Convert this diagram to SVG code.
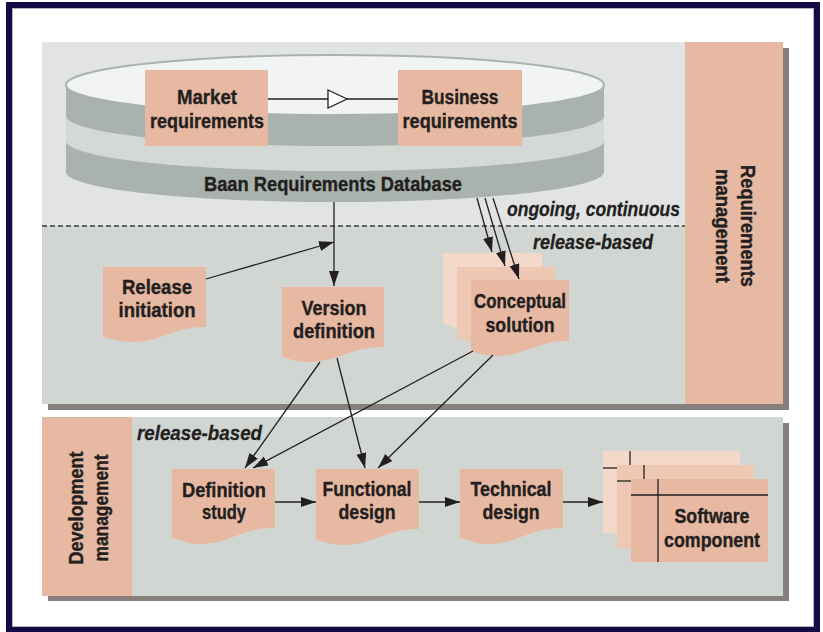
<svg xmlns="http://www.w3.org/2000/svg" width="823" height="632" viewBox="0 0 823 632">
<defs>
<style>
.t{font-family:"Liberation Sans",Arial,Helvetica,sans-serif;font-weight:bold;font-size:21px;fill:#231f20;stroke:#231f20;stroke-width:0.4;text-anchor:middle}
.i{font-family:"Liberation Sans",Arial,Helvetica,sans-serif;font-weight:bold;font-style:italic;font-size:20px;fill:#231f20;stroke:#231f20;stroke-width:0.3}
.doc{fill:#e8b9a2}
.d1{fill:#f4d8ca}
.d2{fill:#efc8b4}
.shadow{fill:#877f7b}
.pink{fill:#e8b9a2}
.c{stroke:#231f20;stroke-width:1.3;fill:none}
.ca{stroke:#231f20;stroke-width:1.3;fill:none;marker-end:url(#ah)}
.dark{fill:#a9b2ad}
.light{fill:#d4d9d6}
</style>
<marker id="ah" markerUnits="userSpaceOnUse" markerWidth="16" markerHeight="12" refX="15" refY="5" orient="auto">
<path d="M0,0 L15,5 L0,10 Z" fill="#231f20"/>
</marker>
</defs>

<!-- frame -->
<rect x="9" y="5" width="808" height="625" fill="#ffffff" stroke="#130c44" stroke-width="6"/>
<rect x="12.5" y="8.5" width="801" height="618" fill="none" stroke="#b4b2c6" stroke-width="1"/>

<!-- upper panel -->
<g id="requirements-panel">
<rect class="shadow" x="48" y="48" width="741" height="362"/>
<rect x="42" y="42" width="643" height="184" fill="#e2e4e3"/>
<rect x="42" y="226" width="643" height="178" fill="#d1d6d3"/>
<line x1="42" y1="226" x2="685" y2="226" stroke="#3a3a3a" stroke-width="1.3" stroke-dasharray="5,3"/>
<rect class="pink" x="685" y="42" width="98" height="362"/>
<text class="t" transform="translate(741,226) rotate(90)" textLength="122" lengthAdjust="spacingAndGlyphs">Requirements</text>
<text class="t" transform="translate(716,226) rotate(90)" textLength="114" lengthAdjust="spacingAndGlyphs">management</text>
</g>

<!-- lower panel -->
<g id="development-panel">
<rect class="shadow" x="48" y="423" width="741" height="178"/>
<rect x="132" y="417" width="651" height="179" fill="#d1d6d3"/>
<rect class="pink" x="42" y="417" width="90" height="179"/>
<text class="t" transform="translate(83,508) rotate(-90)" textLength="113" lengthAdjust="spacingAndGlyphs">Development</text>
<text class="t" transform="translate(108,508) rotate(-90)" textLength="107" lengthAdjust="spacingAndGlyphs">management</text>
</g>

<!-- database -->
<g id="database">
<path class="dark" d="M66,85 V172 A269,30 0 0 0 604,172 V85 Z"/>
<path class="light" d="M66,85 V141 A269,30 0 0 0 604,141 V85 Z"/>
<path class="dark" d="M66,85 V116 A269,30 0 0 0 604,116 V85 Z"/>
<ellipse cx="335" cy="85" rx="269" ry="30" fill="#f2f4f3" stroke="#a9b2ad" stroke-width="2"/>
<text class="t" x="333" y="191" textLength="258" lengthAdjust="spacingAndGlyphs">Baan Requirements Database</text>
</g>

<g id="market-requirements">
<rect class="pink" x="145" y="70" width="123" height="76"/>
<text class="t" x="207" y="104" textLength="60" lengthAdjust="spacingAndGlyphs">Market</text>
<text class="t" x="207" y="128" textLength="114" lengthAdjust="spacingAndGlyphs">requirements</text>
</g>

<g id="business-requirements">
<rect class="pink" x="398" y="70" width="124" height="76"/>
<text class="t" x="460" y="104" textLength="77" lengthAdjust="spacingAndGlyphs">Business</text>
<text class="t" x="460" y="128" textLength="115" lengthAdjust="spacingAndGlyphs">requirements</text>
</g>

<g id="release-initiation">
<path class="doc" d="M103,267 H206 V327 C175,326 162,342 132,342 C118,342 110,338 103,337 Z"/>
<text class="t" x="157" y="294" textLength="70" lengthAdjust="spacingAndGlyphs">Release</text>
<text class="t" x="157" y="317" textLength="77" lengthAdjust="spacingAndGlyphs">initiation</text>
</g>

<g id="version-definition">
<path class="doc" d="M282,287 H384 V347 C353,346 338,362 308,362 C295,362 288,358 282,357 Z"/>
<text class="t" x="334" y="315" textLength="65" lengthAdjust="spacingAndGlyphs">Version</text>
<text class="t" x="334" y="338" textLength="82" lengthAdjust="spacingAndGlyphs">definition</text>
</g>

<g id="conceptual-solution">
<path class="d1" d="M443,253 H542 V314 C512,313 498,329 469,329 C456,329 449,325 443,324 Z"/>
<path class="d2" d="M457,267 H555 V328 C525,327 511,343 482,343 C469,343 463,339 457,338 Z"/>
<path class="doc" d="M471,280 H569 V341 C539,340 525,356 496,356 C483,356 477,352 471,351 Z"/>
<text class="t" x="520" y="308" textLength="92" lengthAdjust="spacingAndGlyphs">Conceptual</text>
<text class="t" x="520" y="332" textLength="69" lengthAdjust="spacingAndGlyphs">solution</text>
</g>

<g id="definition-study">
<path class="doc" d="M172,469 H275 V528 C244,527 229,544 200,544 C186,544 179,539 172,538 Z"/>
<text class="t" x="224" y="497" textLength="84" lengthAdjust="spacingAndGlyphs">Definition</text>
<text class="t" x="224" y="519" textLength="44" lengthAdjust="spacingAndGlyphs">study</text>
</g>

<g id="functional-design">
<path class="doc" d="M316,469 H419 V529 C388,528 373,545 344,545 C330,545 323,541 316,540 Z"/>
<text class="t" x="367" y="496" textLength="89" lengthAdjust="spacingAndGlyphs">Functional</text>
<text class="t" x="367" y="519" textLength="57" lengthAdjust="spacingAndGlyphs">design</text>
</g>

<g id="technical-design">
<path class="doc" d="M460,469 H563 V528 C532,527 517,544 488,544 C474,544 467,539 460,538 Z"/>
<text class="t" x="511" y="496" textLength="81" lengthAdjust="spacingAndGlyphs">Technical</text>
<text class="t" x="511" y="519" textLength="57" lengthAdjust="spacingAndGlyphs">design</text>
</g>

<g id="software-component">
<rect class="d1" x="603" y="451" width="137" height="82"/>
<line class="c" x1="630" y1="451" x2="630" y2="465"/>
<line class="c" x1="603" y1="468" x2="617" y2="468"/>
<rect class="d2" x="617" y="465" width="137" height="83"/>
<line class="c" x1="644" y1="465" x2="644" y2="479"/>
<line class="c" x1="617" y1="481" x2="631" y2="481"/>
<rect class="doc" x="631" y="479" width="137" height="83"/>
<line class="c" x1="658" y1="479" x2="658" y2="562"/>
<line class="c" x1="631" y1="495" x2="768" y2="495"/>
<text class="t" x="712" y="523" textLength="75" lengthAdjust="spacingAndGlyphs">Software</text>
<text class="t" x="712" y="547" textLength="96" lengthAdjust="spacingAndGlyphs">component</text>
</g>

<!-- labels -->
<g id="labels">
<text class="i" x="507" y="216" textLength="173" lengthAdjust="spacingAndGlyphs">ongoing, continuous</text>
<text class="i" x="533" y="249" textLength="120" lengthAdjust="spacingAndGlyphs">release-based</text>
<text class="i" x="137" y="440" textLength="125" lengthAdjust="spacingAndGlyphs">release-based</text>
</g>

<!-- connectors -->
<g id="connectors">
<line class="c" x1="268" y1="99" x2="328" y2="99"/>
<line class="c" x1="347" y1="99" x2="398" y2="99"/>
<path d="M328,90 L347,99 L328,108 Z" fill="#ffffff" stroke="#231f20" stroke-width="1.3"/>
<line class="ca" x1="334" y1="202" x2="334" y2="286"/>
<line class="ca" x1="206" y1="279" x2="334" y2="242"/>
<line class="ca" x1="477" y1="198" x2="492" y2="252"/>
<line class="ca" x1="485" y1="198" x2="505" y2="266"/>
<line class="ca" x1="493" y1="198" x2="519" y2="279"/>
<line class="ca" x1="320" y1="362" x2="245" y2="468"/>
<line class="ca" x1="337" y1="358" x2="365" y2="468"/>
<line class="ca" x1="473" y1="351" x2="253" y2="468"/>
<line class="ca" x1="493" y1="355" x2="378" y2="468"/>
<line class="ca" x1="275" y1="502" x2="316" y2="502"/>
<line class="ca" x1="419" y1="502" x2="460" y2="502"/>
<line class="ca" x1="563" y1="502" x2="603" y2="502"/>
</g>
</svg>
